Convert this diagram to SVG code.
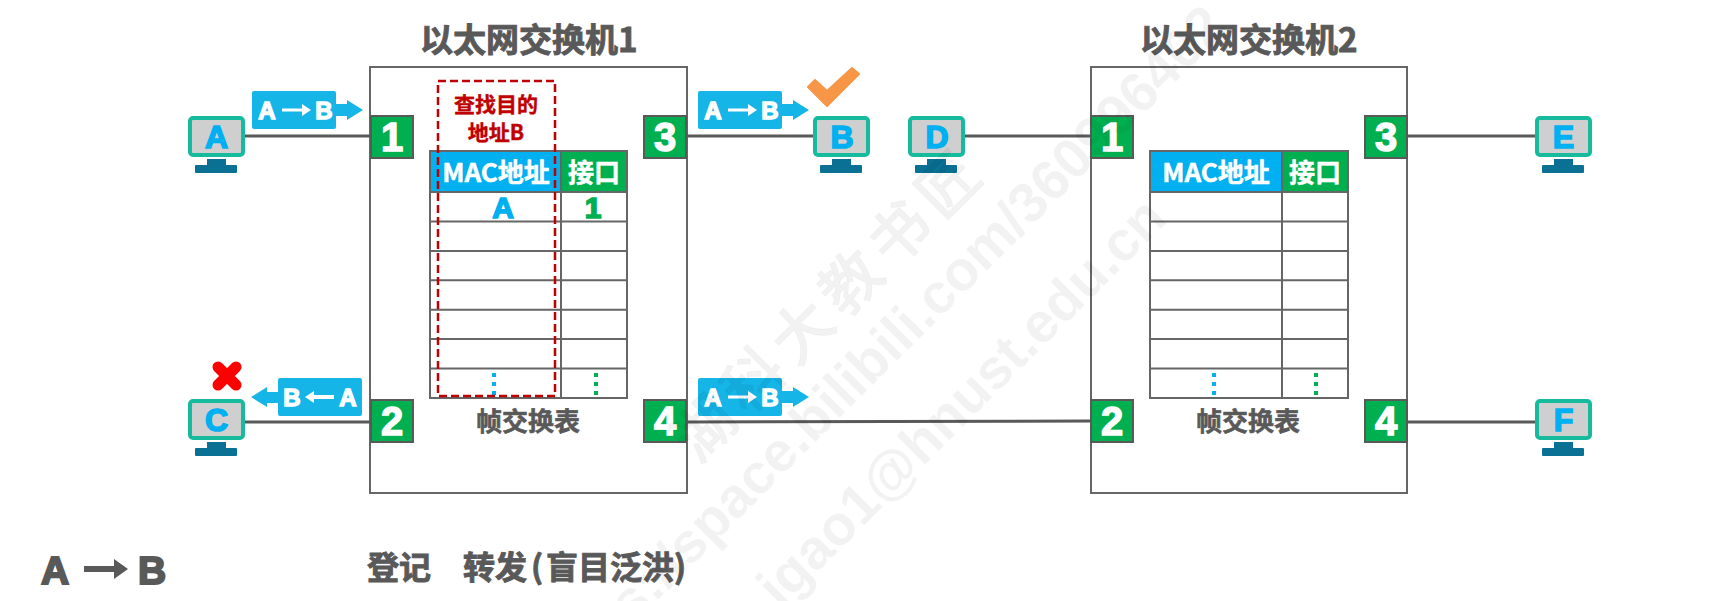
<svg xmlns="http://www.w3.org/2000/svg" xmlns:xlink="http://www.w3.org/1999/xlink" width="1715" height="601" viewBox="0 0 1715 601">
<style>
text{font-family:"Liberation Sans","Noto Sans CJK SC",sans-serif;font-weight:700}
.cjk{font-family:"Noto Sans CJK SC",sans-serif;font-weight:700}
.title{font-size:33px;fill:#595959;stroke:#595959;stroke-width:.9}
.sw{fill:#fff;stroke:#666;stroke-width:2}
.link{fill:none;stroke:#595959;stroke-width:3}
.port{fill:#00B050;stroke:#595959;stroke-width:2}
.pn{font-size:40px;fill:#fff;stroke:#fff;stroke-width:1.4;text-anchor:middle}
.grid{fill:none;stroke:#666;stroke-width:2}
.mac{fill:#00B0F0}
.ifc{fill:#00B050}
.th{fill:#fff;stroke:#fff;stroke-width:.5;font-size:26px;text-anchor:middle}
.cap{fill:#595959;stroke:#595959;stroke-width:.6;font-size:26px;text-anchor:middle}
.red{fill:#C00000;stroke:#C00000;stroke-width:.4;font-size:21px;text-anchor:middle}
.scr{fill:#CFCFCF;stroke:#16BA9C;stroke-width:4}
.std{fill:#0A7094}
.pcl{font-size:32px;fill:#00B0F0;stroke:#00B0F0;stroke-width:1.6;text-anchor:middle}
.lb{fill:#15B5E8}
.lt{font-size:24px;fill:#fff;stroke:#fff;stroke-width:1.4;text-anchor:middle}
.wh{fill:#fff}
.big{font-size:39px;fill:#595959;stroke:#595959;stroke-width:2;text-anchor:middle}
.bot{font-size:32px;fill:#595959;stroke:#595959;stroke-width:.9}
.wm{fill:#000;fill-opacity:.05;font-weight:700;font-size:56px}
.wz{fill:#000;fill-opacity:.05;stroke:#000;stroke-opacity:.03;stroke-width:1;font-weight:500;font-size:60px;letter-spacing:9px}
.tv{font-size:30px;stroke-width:1.6;text-anchor:middle}
</style>
<defs>
<g id="pc">
<rect class="scr" x="190" y="118" width="53" height="37" rx="3"/>
<rect class="std" x="207" y="159" width="19" height="7"/>
<rect class="std" x="195" y="165" width="42" height="8" rx="1"/>
</g>
<g id="lab">
<rect class="lb" x="252" y="91" width="84" height="38" rx="2"/>
<path class="lb" d="M336 104H347V100L363 110L347 120V116H336Z"/>
<path class="wh" d="M282 108.500H302V104L311 110L302 116V111.500H282Z"/>
<text class="lt" x="267" y="119">A</text>
<text class="lt" x="324" y="119">B</text>
</g>
</defs>

<g id="switch1">
<rect class="sw" x="370" y="67" width="317" height="426"/>
<text class="title cjk" x="420" y="52">以太网交换机1</text>
</g>
<g id="switch2">
<rect class="sw" x="1091" y="67" width="316" height="426"/>
<text class="title cjk" x="1140" y="52">以太网交换机2</text>
</g>

<g id="connectors">
<path class="link" d="M245 136H370"/>
<path class="link" d="M245 422H370"/>
<path class="link" d="M687 136H813"/>
<path class="link" d="M965 136H1091"/>
<path class="link" d="M687 422L1091 421"/>
<path class="link" d="M1407 136H1535"/>
<path class="link" d="M1407 422H1535"/>
</g>

<g id="table1">
<rect class="mac" x="430" y="151" width="131" height="41"/>
<rect class="ifc" x="561" y="151" width="66" height="41"/>
<path class="grid" d="M430 151H627V398H430ZM430 192H627M430 221.400H627M430 250.900H627M430 280.300H627M430 309.700H627M430 339H627M430 368.600H627M561 151V398"/>
<text class="th cjk" x="496" y="182">MAC地址</text>
<text class="th cjk" x="594" y="182">接口</text>
<text class="tv" x="503" y="218" fill="#00B0F0" stroke="#00B0F0">A</text>
<text class="tv" x="593" y="218" fill="#00B050" stroke="#00B050">1</text>
<path d="M494 373V395" stroke="#00B0F0" stroke-width="4" stroke-dasharray="4 5" fill="none"/>
<path d="M596 373V395" stroke="#00B050" stroke-width="4" stroke-dasharray="4 5" fill="none"/>
<text class="cap cjk" x="528" y="431">帧交换表</text>
</g>
<g id="table2">
<rect class="mac" x="1150" y="151" width="132" height="41"/>
<rect class="ifc" x="1282" y="151" width="66" height="41"/>
<path class="grid" d="M1150 151H1348V398H1150ZM1150 192H1348M1150 221.400H1348M1150 250.900H1348M1150 280.300H1348M1150 309.700H1348M1150 339H1348M1150 368.600H1348M1282 151V398"/>
<text class="th cjk" x="1216" y="182">MAC地址</text>
<text class="th cjk" x="1315" y="182">接口</text>
<path d="M1214 373V395" stroke="#00B0F0" stroke-width="4" stroke-dasharray="4 5" fill="none"/>
<path d="M1316 373V395" stroke="#00B050" stroke-width="4" stroke-dasharray="4 5" fill="none"/>
<text class="cap cjk" x="1248" y="431">帧交换表</text>
</g>

<g id="lookup">
<rect x="438" y="81" width="117" height="315" fill="none" stroke="#C00000" stroke-width="2.500" stroke-dasharray="8 4"/>
<text class="red cjk" x="496" y="112">查找目的</text>
<text class="red cjk" x="496" y="140">地址B</text>
</g>

<g id="s1p1"><rect class="port" x="371" y="116" width="42" height="42"/><text class="pn" x="392" y="151">1</text></g>
<g id="s1p2"><rect class="port" x="371" y="400" width="42" height="42"/><text class="pn" x="392" y="435">2</text></g>
<g id="s1p3"><rect class="port" x="644" y="116" width="42" height="42"/><text class="pn" x="665" y="151">3</text></g>
<g id="s1p4"><rect class="port" x="644" y="400" width="42" height="42"/><text class="pn" x="665" y="435">4</text></g>
<g id="s2p1"><rect class="port" x="1091" y="116" width="42" height="42"/><text class="pn" x="1112" y="151">1</text></g>
<g id="s2p2"><rect class="port" x="1091" y="400" width="42" height="42"/><text class="pn" x="1112" y="435">2</text></g>
<g id="s2p3"><rect class="port" x="1365" y="116" width="42" height="42"/><text class="pn" x="1386" y="151">3</text></g>
<g id="s2p4"><rect class="port" x="1365" y="400" width="42" height="42"/><text class="pn" x="1386" y="435">4</text></g>

<g id="pcA"><use xlink:href="#pc" href="#pc"/><text class="pcl" x="216.500" y="148">A</text></g>
<g id="pcC"><use xlink:href="#pc" href="#pc" y="283"/><text class="pcl" x="216.500" y="431">C</text></g>
<g id="pcB"><use xlink:href="#pc" href="#pc" x="625"/><text class="pcl" x="842" y="148">B</text></g>
<g id="pcD"><use xlink:href="#pc" href="#pc" x="720"/><text class="pcl" x="937" y="148">D</text></g>
<g id="pcE"><use xlink:href="#pc" href="#pc" x="1347"/><text class="pcl" x="1563.500" y="148">E</text></g>
<g id="pcF"><use xlink:href="#pc" href="#pc" x="1347" y="283"/><text class="pcl" x="1563.500" y="431">F</text></g>

<g id="frame1"><use xlink:href="#lab" href="#lab"/></g>
<g id="frame3"><use xlink:href="#lab" href="#lab" x="446"/></g>
<g id="frame4"><use xlink:href="#lab" href="#lab" x="446" y="287"/></g>
<g id="frameC">
<rect class="lb" x="278" y="378" width="84" height="38" rx="2"/>
<path class="lb" d="M278 392H267V387L251 397L267 407V403H278Z"/>
<path class="wh" d="M334 395H314V391L305 397L314 403V399H334Z"/>
<text class="lt" x="292" y="406">B</text>
<text class="lt" x="348" y="406">A</text>
</g>

<g id="ok"><path d="M808 87L815 80L827 91L852 68L859 74L827 106Z" fill="#F79646" stroke="#F79646" stroke-width="2" stroke-linejoin="round"/></g>
<g id="no"><path d="M218 367L236 385M236 367L218 385" fill="none" stroke="#FF0000" stroke-width="11" stroke-linecap="round"/></g>

<g id="legend">
<text class="big" x="55" y="584">A</text>
<path fill="#595959" d="M84 566H114V559L128 569L114 579V572H84Z"/>
<text class="big" x="152" y="584">B</text>
<text class="bot cjk" x="367" y="579">登记</text>
<text class="bot cjk" y="579"><tspan x="463">转发</tspan><tspan x="531">(</tspan><tspan x="546">盲目泛洪</tspan><tspan x="674">)</tspan></text>
</g>

<g id="watermark">
<text class="wz cjk" transform="translate(826 300) rotate(-45)" text-anchor="middle" dominant-baseline="central">湖科大教书匠</text>
<text class="wm" transform="translate(1215 15) rotate(-45)" text-anchor="end" dominant-baseline="central">s://space.bilibili.com/360996402</text>
<text class="wm" transform="translate(1155 207) rotate(-45)" text-anchor="end" dominant-baseline="central">igao1@hnust.edu.cn</text>
</g>
</svg>
